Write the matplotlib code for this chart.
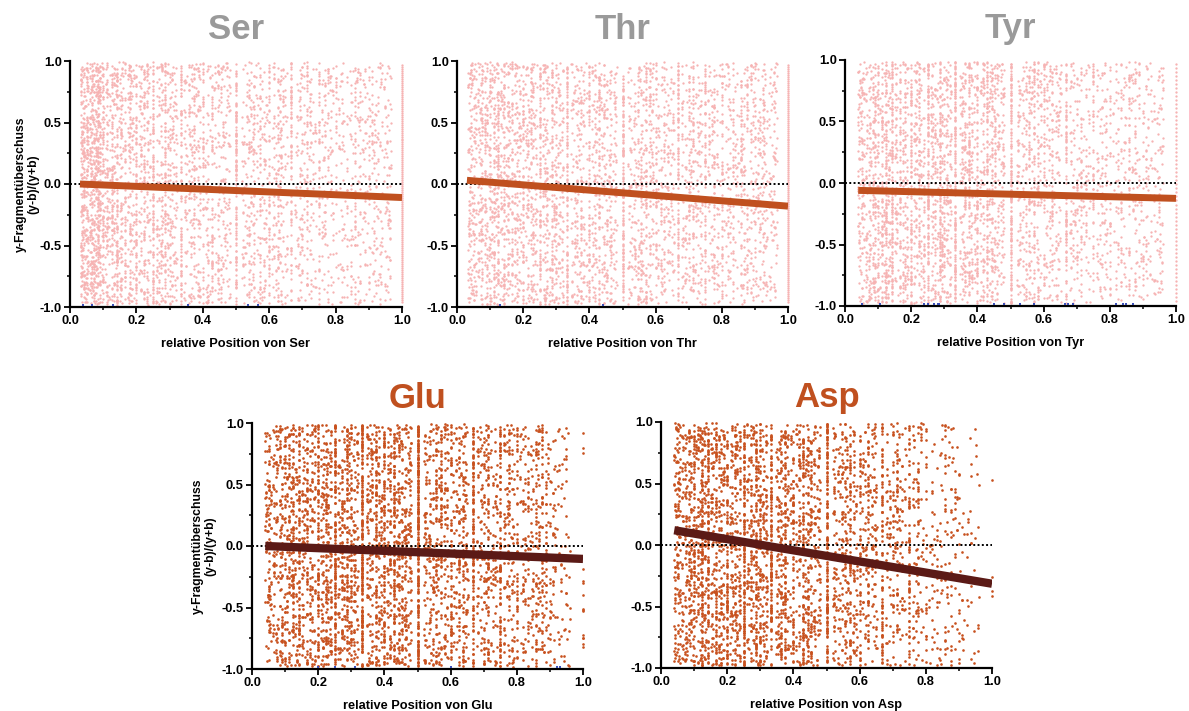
import numpy as np
import matplotlib
matplotlib.use("Agg")
import matplotlib.pyplot as plt

plt.rcParams['font.family'] = ['Liberation Sans', 'DejaVu Sans']
plt.rcParams['font.weight'] = 'bold'

# ---- data -----------------------------------------------------------------
residues = ["Ser", "Thr", "Tyr", "Glu", "Asp"]

# relative point density per 0.1-wide position bin (0.0-0.1 ... 0.9-1.0)
ser_bin_density = [3.0, 1.4, 1.2, 1.0, 0.9, 0.9, 0.8, 0.7, 0.6, 0.7]
thr_bin_density = [1.6, 1.5, 1.3, 1.1, 1.0, 1.0, 0.9, 0.9, 0.8, 0.8]
tyr_bin_density = [1.4, 1.5, 1.4, 1.3, 1.2, 1.0, 0.8, 0.7, 0.6, 0.6]
glu_bin_density = [1.0, 1.3, 1.4, 1.4, 1.4, 1.1, 1.0, 0.9, 0.7, 0.4]
asp_bin_density = [1.4, 1.5, 1.5, 1.4, 1.3, 1.0, 0.8, 0.6, 0.35, 0.2]

# number of fragment-ratio points per residue (interior positions / C-terminal position)
n_points = [4500, 4500, 4500, 4500, 4000]
n_terminal = [120, 120, 60, 15, 4]

# longest peptide length contributing positions
max_length = [30, 30, 25, 25, 25]

# linear trend lines: (x_start, y_start, x_end, y_end)
ser_fit = (0.03, 0.00, 1.0, -0.11)
thr_fit = (0.03, 0.03, 1.0, -0.18)
tyr_fit = (0.04, -0.06, 1.0, -0.125)
glu_fit = (0.04, 0.00, 1.0, -0.105)
asp_fit = (0.04, 0.12, 1.0, -0.315)

# positions of fully b-ion dominated fragments, (y-b)/(y+b) = -1
ser_minus_one = [0.04, 0.065, 0.13, 0.355, 0.535, 0.565]
thr_minus_one = [0.13, 0.44]
tyr_minus_one = [0.05, 0.105, 0.24, 0.25, 0.27, 0.28, 0.285, 0.45, 0.48,
                 0.53, 0.57, 0.665, 0.675, 0.69, 0.82, 0.84, 0.85, 0.87]
glu_minus_one = [0.2, 0.25, 0.31, 0.6, 0.92, 0.93]
asp_minus_one = []

densities = [ser_bin_density, thr_bin_density, tyr_bin_density,
             glu_bin_density, asp_bin_density]
fits = [ser_fit, thr_fit, tyr_fit, glu_fit, asp_fit]
minus_one = [ser_minus_one, thr_minus_one, tyr_minus_one,
             glu_minus_one, asp_minus_one]

# ---- styling --------------------------------------------------------------
light_point = "#f6b3b3"
dark_point = "#c8511e"
light_fit = "#c0501f"
dark_fit = "#5b1a16"
grey_title = "#9a9a9a"
orange_title = "#c0501f"

W, H = 1189, 711
axes_px = [  # left, top, right, bottom in pixels
    (70, 61, 402, 307),
    (457, 61, 788, 307),
    (845, 60, 1176, 306),
    (252, 423, 583, 669),
    (661, 422, 992, 668),
]

rng = np.random.default_rng(7)


def positions(density, total, nmax, terminal):
    pairs = []
    weights = []
    for n in range(7, nmax + 1):
        for k in range(1, n):
            x = k / n
            b = min(int(x * 10), 9)
            pairs.append(x)
            weights.append(density[b] / (n - 1))
    pairs = np.array(pairs)
    weights = np.array(weights)
    weights /= weights.sum()
    xs = rng.choice(pairs, size=total, p=weights)
    ys = rng.uniform(-0.98, 0.99, size=total)
    xt = np.ones(terminal)
    yt = np.linspace(-0.96, 0.97, terminal) if terminal > 30 else rng.uniform(-0.96, 0.97, terminal)
    return np.concatenate([xs, xt]), np.concatenate([ys, yt])


fig = plt.figure(figsize=(W / 100, H / 100), dpi=100)

for i, name in enumerate(residues):
    l, t, r, b = axes_px[i]
    ax = fig.add_axes([l / W, 1 - b / H, (r - l) / W, (b - t) / H])
    top_row = i < 3

    xs, ys = positions(densities[i], n_points[i], max_length[i], n_terminal[i])
    ax.scatter(xs, ys, s=2.8 if top_row else 3.6, marker='o', linewidths=0,
               color=light_point if top_row else dark_point,
               clip_on=False, zorder=2)
    if minus_one[i]:
        ax.scatter(minus_one[i], [-0.985] * len(minus_one[i]), s=3, marker='s',
                   linewidths=0, color="#3b4fb8", clip_on=False, zorder=3)

    ax.axhline(0, color="black", linestyle=(0, (1, 1.2)), linewidth=1.4, zorder=4)
    x0, y0, x1, y1 = fits[i]
    ax.plot([x0, x1], [y0, y1], color=light_fit if top_row else dark_fit,
            linewidth=5.0 if top_row else 6.0, solid_capstyle='butt', zorder=5)

    ax.set_xlim(0, 1.0)
    ax.set_ylim(-1.0, 1.0)
    ax.set_xticks([0, 0.2, 0.4, 0.6, 0.8, 1.0])
    ax.set_xticks(np.arange(0.1, 1.0, 0.2), minor=True)
    ax.set_yticks([-1.0, -0.5, 0.0, 0.5, 1.0])
    ax.set_yticks([-0.75, -0.25, 0.25, 0.75], minor=True)
    ax.xaxis.set_major_formatter(matplotlib.ticker.FormatStrFormatter('%.1f'))
    ax.yaxis.set_major_formatter(matplotlib.ticker.FormatStrFormatter('%.1f'))
    ax.tick_params(which='major', direction='out', length=4, width=1.3,
                   labelsize=9.3, pad=2)
    ax.tick_params(which='minor', direction='out', length=2.5, width=1.1)
    for lab in ax.get_xticklabels() + ax.get_yticklabels():
        lab.set_fontweight('bold')
    for side in ('top', 'right'):
        ax.spines[side].set_visible(False)
    for side in ('left', 'bottom'):
        ax.spines[side].set_linewidth(1.6)

    ax.set_xlabel(f"relative Position von {name}", fontsize=9.2,
                  fontweight='bold', labelpad=8)
    if i in (0, 3):
        ax.set_ylabel("y-Fragmentüberschuss\n(y-b)/(y+b)", fontsize=8.8,
                      fontweight='bold', linespacing=1.0)
        ax.yaxis.set_label_coords(-0.093 if i == 0 else -0.108, 0.5)
    ax.set_title(name, fontsize=25, fontweight='bold',
                 color=grey_title if top_row else orange_title,
                 pad=16 if top_row else 11)
    ax.set_facecolor('none')

fig.savefig("out.png", dpi=100)
